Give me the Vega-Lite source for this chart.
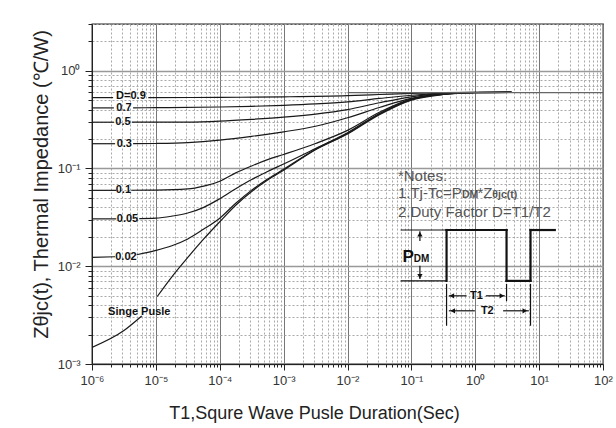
{
  "$schema": "https://vega.github.io/schema/vega-lite/v6.json",
  "width": 511,
  "height": 340,
  "autosize": "none",
  "padding": {"left": 92, "top": 24, "right": 13, "bottom": 64},
  "background": "white",
  "config": {
    "view": {"stroke": "#222", "strokeWidth": 1.3},
    "font": "Liberation Sans",
    "axis": {"domainColor": "#222", "tickColor": "#222", "labelFont": "Liberation Sans", "titleFont": "Liberation Sans", "titleFontWeight": "normal", "labelColor": "#333", "titleColor": "#222"}
  },
  "datasets": {
    "curves": [
      {"k": "0.9a", "t": 1e-6, "z": 0.530}, {"k": "0.9a", "t": 2.14e-6, "z": 0.530},
      {"k": "0.9b", "t": 7.6e-6, "z": 0.530}, {"k": "0.9b", "t": 1e-4, "z": 0.533}, {"k": "0.9b", "t": 1e-3, "z": 0.54}, {"k": "0.9b", "t": 1e-2, "z": 0.555}, {"k": "0.9b", "t": 3.16e-2, "z": 0.57}, {"k": "0.9b", "t": 0.1, "z": 0.585}, {"k": "0.9b", "t": 0.316, "z": 0.596}, {"k": "0.9b", "t": 1, "z": 0.6}, {"k": "0.9b", "t": 3.7, "z": 0.6},
      {"k": "0.7a", "t": 1e-6, "z": 0.416}, {"k": "0.7a", "t": 2.2e-6, "z": 0.416},
      {"k": "0.7b", "t": 4.4e-6, "z": 0.417}, {"k": "0.7b", "t": 1e-5, "z": 0.418}, {"k": "0.7b", "t": 1e-4, "z": 0.425}, {"k": "0.7b", "t": 3.16e-4, "z": 0.432}, {"k": "0.7b", "t": 1e-3, "z": 0.442}, {"k": "0.7b", "t": 3.16e-3, "z": 0.457}, {"k": "0.7b", "t": 1e-2, "z": 0.48}, {"k": "0.7b", "t": 3.16e-2, "z": 0.52}, {"k": "0.7b", "t": 0.1, "z": 0.56}, {"k": "0.7b", "t": 0.316, "z": 0.59}, {"k": "0.7b", "t": 1, "z": 0.599}, {"k": "0.7b", "t": 3.7, "z": 0.6},
      {"k": "0.5a", "t": 1e-6, "z": 0.297}, {"k": "0.5a", "t": 2.2e-6, "z": 0.297},
      {"k": "0.5b", "t": 4.2e-6, "z": 0.297}, {"k": "0.5b", "t": 1e-5, "z": 0.297}, {"k": "0.5b", "t": 3.16e-5, "z": 0.298}, {"k": "0.5b", "t": 1e-4, "z": 0.305}, {"k": "0.5b", "t": 3.16e-4, "z": 0.318}, {"k": "0.5b", "t": 1e-3, "z": 0.335}, {"k": "0.5b", "t": 3.16e-3, "z": 0.36}, {"k": "0.5b", "t": 1e-2, "z": 0.40}, {"k": "0.5b", "t": 3.16e-2, "z": 0.47}, {"k": "0.5b", "t": 0.1, "z": 0.54}, {"k": "0.5b", "t": 0.316, "z": 0.585}, {"k": "0.5b", "t": 1, "z": 0.598}, {"k": "0.5b", "t": 3.7, "z": 0.6},
      {"k": "0.3a", "t": 1e-6, "z": 0.179}, {"k": "0.3a", "t": 2.3e-6, "z": 0.179},
      {"k": "0.3b", "t": 4.4e-6, "z": 0.179}, {"k": "0.3b", "t": 1e-5, "z": 0.18}, {"k": "0.3b", "t": 3.16e-5, "z": 0.184}, {"k": "0.3b", "t": 1e-4, "z": 0.195}, {"k": "0.3b", "t": 3.16e-4, "z": 0.213}, {"k": "0.3b", "t": 1e-3, "z": 0.237}, {"k": "0.3b", "t": 3.16e-3, "z": 0.27}, {"k": "0.3b", "t": 1e-2, "z": 0.33}, {"k": "0.3b", "t": 3.16e-2, "z": 0.42}, {"k": "0.3b", "t": 0.1, "z": 0.52}, {"k": "0.3b", "t": 0.316, "z": 0.58}, {"k": "0.3b", "t": 1, "z": 0.598}, {"k": "0.3b", "t": 3.7, "z": 0.6},
      {"k": "0.1a", "t": 1e-6, "z": 0.0597}, {"k": "0.1a", "t": 2.4e-6, "z": 0.0597},
      {"k": "0.1b", "t": 4.1e-6, "z": 0.0598}, {"k": "0.1b", "t": 1e-5, "z": 0.060}, {"k": "0.1b", "t": 3.16e-5, "z": 0.0617}, {"k": "0.1b", "t": 5.62e-5, "z": 0.066}, {"k": "0.1b", "t": 1e-4, "z": 0.074}, {"k": "0.1b", "t": 1.78e-4, "z": 0.090}, {"k": "0.1b", "t": 3.16e-4, "z": 0.106}, {"k": "0.1b", "t": 5.62e-4, "z": 0.123}, {"k": "0.1b", "t": 1e-3, "z": 0.139}, {"k": "0.1b", "t": 3.16e-3, "z": 0.18}, {"k": "0.1b", "t": 1e-2, "z": 0.245}, {"k": "0.1b", "t": 3.16e-2, "z": 0.375}, {"k": "0.1b", "t": 0.1, "z": 0.515}, {"k": "0.1b", "t": 0.316, "z": 0.577}, {"k": "0.1b", "t": 1, "z": 0.598}, {"k": "0.1b", "t": 3.7, "z": 0.6},
      {"k": "0.05a", "t": 1e-6, "z": 0.0305}, {"k": "0.05a", "t": 2.4e-6, "z": 0.0305},
      {"k": "0.05b", "t": 5.5e-6, "z": 0.0307}, {"k": "0.05b", "t": 1e-5, "z": 0.031}, {"k": "0.05b", "t": 1.78e-5, "z": 0.0325}, {"k": "0.05b", "t": 3.16e-5, "z": 0.035}, {"k": "0.05b", "t": 5.62e-5, "z": 0.040}, {"k": "0.05b", "t": 1e-4, "z": 0.049}, {"k": "0.05b", "t": 1.78e-4, "z": 0.062}, {"k": "0.05b", "t": 3.16e-4, "z": 0.077}, {"k": "0.05b", "t": 5.62e-4, "z": 0.093}, {"k": "0.05b", "t": 1e-3, "z": 0.111}, {"k": "0.05b", "t": 3.16e-3, "z": 0.16}, {"k": "0.05b", "t": 1e-2, "z": 0.232}, {"k": "0.05b", "t": 3.16e-2, "z": 0.365}, {"k": "0.05b", "t": 0.1, "z": 0.51}, {"k": "0.05b", "t": 0.316, "z": 0.574}, {"k": "0.05b", "t": 1, "z": 0.597}, {"k": "0.05b", "t": 3.7, "z": 0.6},
      {"k": "0.02a", "t": 1e-6, "z": 0.0123}, {"k": "0.02a", "t": 2.3e-6, "z": 0.0125},
      {"k": "0.02b", "t": 5e-6, "z": 0.0131}, {"k": "0.02b", "t": 1e-5, "z": 0.0145}, {"k": "0.02b", "t": 1.78e-5, "z": 0.0162}, {"k": "0.02b", "t": 3.16e-5, "z": 0.019}, {"k": "0.02b", "t": 5.62e-5, "z": 0.024}, {"k": "0.02b", "t": 1e-4, "z": 0.031}, {"k": "0.02b", "t": 1.78e-4, "z": 0.044}, {"k": "0.02b", "t": 3.16e-4, "z": 0.060}, {"k": "0.02b", "t": 5.62e-4, "z": 0.078}, {"k": "0.02b", "t": 1e-3, "z": 0.098}, {"k": "0.02b", "t": 3.16e-3, "z": 0.157}, {"k": "0.02b", "t": 1e-2, "z": 0.228}, {"k": "0.02b", "t": 3.16e-2, "z": 0.36}, {"k": "0.02b", "t": 0.1, "z": 0.505}, {"k": "0.02b", "t": 0.316, "z": 0.572}, {"k": "0.02b", "t": 1, "z": 0.596}, {"k": "0.02b", "t": 3.7, "z": 0.6},
      {"k": "sa", "t": 1e-6, "z": 0.00148}, {"k": "sa", "t": 3.16e-6, "z": 0.0022}, {"k": "sa", "t": 6e-6, "z": 0.0031},
      {"k": "sb", "t": 1.05e-5, "z": 0.0049}, {"k": "sb", "t": 1.78e-5, "z": 0.0078}, {"k": "sb", "t": 3.16e-5, "z": 0.0123}, {"k": "sb", "t": 5.62e-5, "z": 0.019}, {"k": "sb", "t": 1e-4, "z": 0.0285}, {"k": "sb", "t": 1.78e-4, "z": 0.042}, {"k": "sb", "t": 3.16e-4, "z": 0.058}, {"k": "sb", "t": 5.62e-4, "z": 0.076}, {"k": "sb", "t": 1e-3, "z": 0.096}, {"k": "sb", "t": 3.16e-3, "z": 0.155}, {"k": "sb", "t": 1e-2, "z": 0.225}, {"k": "sb", "t": 3.16e-2, "z": 0.355}, {"k": "sb", "t": 0.1, "z": 0.50}, {"k": "sb", "t": 0.316, "z": 0.57}, {"k": "sb", "t": 1, "z": 0.595}, {"k": "sb", "t": 3.7, "z": 0.6}
    ],
    "curveLabels": [
      {"label": "D=0.9", "t": 4.07e-6, "z": 0.55},
      {"label": "0.7", "t": 3.16e-6, "z": 0.418},
      {"label": "0.5", "t": 3.05e-6, "z": 0.297},
      {"label": "0.3", "t": 3.2e-6, "z": 0.179},
      {"label": "0.1", "t": 3.1e-6, "z": 0.0597},
      {"label": "0.05", "t": 3.6e-6, "z": 0.0305},
      {"label": "0.02", "t": 3.4e-6, "z": 0.0124},
      {"label": "Singe Pusle", "t": 5.5e-6, "z": 0.0034}
    ],
    "steady": [{"t": 0.01, "t2": 100, "z": 0.597}],
    "pulse": [
      {"t": 0.3555, "t2": 0.3555, "z": 0.00708, "z2": 0.02345},
      {"t": 0.3555, "t2": 3.09, "z": 0.02345, "z2": 0.02345},
      {"t": 3.09, "t2": 3.09, "z": 0.02345, "z2": 0.00708},
      {"t": 3.09, "t2": 7.33, "z": 0.00708, "z2": 0.00708},
      {"t": 7.33, "t2": 7.33, "z": 0.00708, "z2": 0.02345},
      {"t": 7.33, "t2": 17.6, "z": 0.02345, "z2": 0.02345}
    ],
    "guides": [
      {"t": 0.0678, "t2": 0.3555, "z": 0.02345, "z2": 0.02345},
      {"t": 0.0678, "t2": 0.3555, "z": 0.00708, "z2": 0.00708},
      {"t": 0.3555, "t2": 0.3555, "z": 0.0066, "z2": 0.00246},
      {"t": 3.09, "t2": 3.09, "z": 0.0066, "z2": 0.0044},
      {"t": 7.33, "t2": 7.33, "z": 0.0066, "z2": 0.00246},
      {"t": 0.386, "t2": 0.731, "z": 0.00498, "z2": 0.00498},
      {"t": 1.466, "t2": 2.9, "z": 0.00498, "z2": 0.00498},
      {"t": 0.386, "t2": 0.986, "z": 0.0035, "z2": 0.0035},
      {"t": 2.73, "t2": 6.9, "z": 0.0035, "z2": 0.0035},
      {"t": 0.136, "t2": 0.136, "z": 0.0181, "z2": 0.0228},
      {"t": 0.136, "t2": 0.136, "z": 0.0101, "z2": 0.0074}
    ],
    "heads": [
      {"t": 0.43, "z": 0.00498, "dir": "left"},
      {"t": 2.61, "z": 0.00498, "dir": "right"},
      {"t": 0.445, "z": 0.0035, "dir": "left"},
      {"t": 5.97, "z": 0.0035, "dir": "right"},
      {"t": 0.136, "z": 0.0212, "dir": "up"},
      {"t": 0.136, "z": 0.0079, "dir": "down"}
    ],
    "notes": [
      {"label": "*Notes:", "t": 0.0615, "z": 0.0745, "part": "big"},
      {"label": "1.Tj-Tc=P", "t": 0.0615, "z": 0.0494, "part": "big"},
      {"label": "*Z", "t": 1.08, "z": 0.0494, "part": "big"},
      {"label": "2.Duty Factor D=T1/T2", "t": 0.0615, "z": 0.032, "part": "big"},
      {"label": "DM", "t": 0.62, "z": 0.0494, "part": "small"},
      {"label": "θjc(t)", "t": 1.85, "z": 0.0494, "part": "small"}
    ],
    "diagramText": [
      {"label": "T1", "t": 1.04, "z": 0.00498, "part": "t"},
      {"label": "T2", "t": 1.545, "z": 0.0035, "part": "t"},
      {"label": "P", "t": 0.0728, "z": 0.011, "part": "p"},
      {"label": "DM", "t": 0.1094, "z": 0.011, "part": "dm"}
    ]
  },
  "layer": [
    {
      "data": {"name": "curves"},
      "mark": {"type": "line", "color": "#1a1a1a", "strokeWidth": 1.2, "interpolate": "monotone", "clip": true},
      "encoding": {
        "x": {
          "field": "t", "type": "quantitative",
          "scale": {"type": "log", "domain": [1e-6, 100], "nice": false},
          "axis": {
            "title": "T1,Squre Wave Pusle Duration(Sec)",
            "titleFontSize": 18, "titlePadding": 17, "titleX": 222, "titleAlign": "center",
            "values": [1e-6, 2e-6, 3e-6, 4e-6, 5e-6, 6e-6, 7e-6, 8e-6, 9e-6, 1e-5, 2e-5, 3e-5, 4e-5, 5e-5, 6e-5, 7e-5, 8e-5, 9e-5, 1e-4, 2e-4, 3e-4, 4e-4, 5e-4, 6e-4, 7e-4, 8e-4, 9e-4, 1e-3, 2e-3, 3e-3, 4e-3, 5e-3, 6e-3, 7e-3, 8e-3, 9e-3, 1e-2, 2e-2, 3e-2, 4e-2, 5e-2, 6e-2, 7e-2, 8e-2, 9e-2, 0.1, 0.2, 0.3, 0.4, 0.5, 0.6, 0.7, 0.8, 0.9, 1, 2, 3, 4, 5, 6, 7, 8, 9, 10, 20, 30, 40, 50, 60, 70, 80, 90, 100],
            "labelExpr": "abs(log(datum.value)/LN10 - round(log(datum.value)/LN10)) < 0.001 ? '10' + ['⁻⁶','⁻⁵','⁻⁴','⁻³','⁻²','⁻¹','⁰','¹','²'][round(log(datum.value)/LN10)+6] : ''",
            "labelFontSize": 13, "labelPadding": 4, "labelFlush": false, "labelOverlap": false,
            "tickSize": {"condition": {"test": "abs(log(datum.value)/LN10 - round(log(datum.value)/LN10)) < 0.001", "value": 6}, "value": 3},
            "grid": true,
            "gridDash": {"condition": {"test": "abs(log(datum.value)/LN10 - round(log(datum.value)/LN10)) < 0.001", "value": []}, "value": [2, 2]},
            "gridColor": {"condition": {"test": "abs(log(datum.value)/LN10 - round(log(datum.value)/LN10)) < 0.001", "value": "#777"}, "value": "#a8a8a8"},
            "gridOpacity": 1
          }
        },
        "y": {
          "field": "z", "type": "quantitative",
          "scale": {"type": "log", "domain": [1e-3, 3], "nice": false},
          "axis": {
            "title": "Zθjc(t),  Thermal  Impedance (℃/W)",
            "titleFontSize": 20, "titlePadding": 6, "titleY": 160, "titleAlign": "center",
            "values": [1e-3, 2e-3, 3e-3, 4e-3, 5e-3, 6e-3, 7e-3, 8e-3, 9e-3, 1e-2, 2e-2, 3e-2, 4e-2, 5e-2, 6e-2, 7e-2, 8e-2, 9e-2, 0.1, 0.2, 0.3, 0.4, 0.5, 0.6, 0.7, 0.8, 0.9, 1, 2, 3],
            "labelExpr": "abs(log(datum.value)/LN10 - round(log(datum.value)/LN10)) < 0.001 ? '10' + ['⁻⁶','⁻⁵','⁻⁴','⁻³','⁻²','⁻¹','⁰','¹','²'][round(log(datum.value)/LN10)+6] : ''",
            "labelFontSize": 13, "labelPadding": 5, "labelFlush": false, "labelOverlap": false,
            "tickSize": {"condition": {"test": "abs(log(datum.value)/LN10 - round(log(datum.value)/LN10)) < 0.001", "value": 7}, "value": 4},
            "grid": true,
            "gridDash": {"condition": {"test": "abs(log(datum.value)/LN10 - round(log(datum.value)/LN10)) < 0.001", "value": []}, "value": [2, 2]},
            "gridColor": {"condition": {"test": "abs(log(datum.value)/LN10 - round(log(datum.value)/LN10)) < 0.001", "value": "#999"}, "value": "#a8a8a8"},
            "gridWidth": {"condition": {"test": "abs(log(datum.value)/LN10 - round(log(datum.value)/LN10)) < 0.001", "value": 1.5}, "value": 1},
            "gridOpacity": 1
          }
        },
        "detail": {"field": "k"}
      }
    },
    {
      "data": {"name": "steady"},
      "mark": {"type": "rule", "color": "#666", "strokeWidth": 1.2},
      "encoding": {
        "x": {"field": "t", "type": "quantitative"},
        "x2": {"field": "t2"},
        "y": {"field": "z", "type": "quantitative"}
      }
    },
    {
      "data": {"name": "curveLabels"},
      "mark": {"type": "text", "fontWeight": "bold", "fontSize": 11, "color": "#111", "align": "center", "baseline": "middle"},
      "encoding": {
        "x": {"field": "t", "type": "quantitative"},
        "y": {"field": "z", "type": "quantitative"},
        "text": {"field": "label"}
      }
    },
    {
      "data": {"name": "notes"},
      "transform": [{"filter": "datum.part == 'big'"}],
      "mark": {"type": "text", "fontSize": 15, "color": "#555", "align": "left", "baseline": "alphabetic"},
      "encoding": {
        "x": {"field": "t", "type": "quantitative"},
        "y": {"field": "z", "type": "quantitative"},
        "text": {"field": "label"}
      }
    },
    {
      "data": {"name": "notes"},
      "transform": [{"filter": "datum.part == 'small'"}],
      "mark": {"type": "text", "fontSize": 10.5, "fontWeight": "bold", "color": "#555", "align": "left", "baseline": "alphabetic"},
      "encoding": {
        "x": {"field": "t", "type": "quantitative"},
        "y": {"field": "z", "type": "quantitative"},
        "text": {"field": "label"}
      }
    },
    {
      "data": {"name": "pulse"},
      "mark": {"type": "rule", "color": "#111", "strokeWidth": 2.2, "strokeCap": "square"},
      "encoding": {
        "x": {"field": "t", "type": "quantitative"},
        "x2": {"field": "t2"},
        "y": {"field": "z", "type": "quantitative"},
        "y2": {"field": "z2"}
      }
    },
    {
      "data": {"name": "guides"},
      "mark": {"type": "rule", "color": "#111", "strokeWidth": 1.2},
      "encoding": {
        "x": {"field": "t", "type": "quantitative"},
        "x2": {"field": "t2"},
        "y": {"field": "z", "type": "quantitative"},
        "y2": {"field": "z2"}
      }
    },
    {
      "data": {"name": "heads"},
      "mark": {"type": "point", "filled": true, "color": "#111", "size": 28, "opacity": 1},
      "encoding": {
        "x": {"field": "t", "type": "quantitative"},
        "y": {"field": "z", "type": "quantitative"},
        "shape": {"field": "dir", "type": "nominal", "legend": null,
          "scale": {"domain": ["left", "right", "up", "down"], "range": ["triangle-left", "triangle-right", "triangle-up", "triangle-down"]}}
      }
    },
    {
      "data": {"name": "diagramText"},
      "transform": [{"filter": "datum.part == 't'"}],
      "mark": {"type": "text", "fontSize": 11, "fontWeight": "bold", "color": "#111", "align": "center", "baseline": "middle"},
      "encoding": {
        "x": {"field": "t", "type": "quantitative"},
        "y": {"field": "z", "type": "quantitative"},
        "text": {"field": "label"}
      }
    },
    {
      "data": {"name": "diagramText"},
      "transform": [{"filter": "datum.part == 'p'"}],
      "mark": {"type": "text", "fontSize": 17, "fontWeight": "bold", "color": "#111", "align": "left", "baseline": "alphabetic"},
      "encoding": {
        "x": {"field": "t", "type": "quantitative"},
        "y": {"field": "z", "type": "quantitative"},
        "text": {"field": "label"}
      }
    },
    {
      "data": {"name": "diagramText"},
      "transform": [{"filter": "datum.part == 'dm'"}],
      "mark": {"type": "text", "fontSize": 10, "fontWeight": "bold", "color": "#111", "align": "left", "baseline": "alphabetic"},
      "encoding": {
        "x": {"field": "t", "type": "quantitative"},
        "y": {"field": "z", "type": "quantitative"},
        "text": {"field": "label"}
      }
    }
  ]
}
